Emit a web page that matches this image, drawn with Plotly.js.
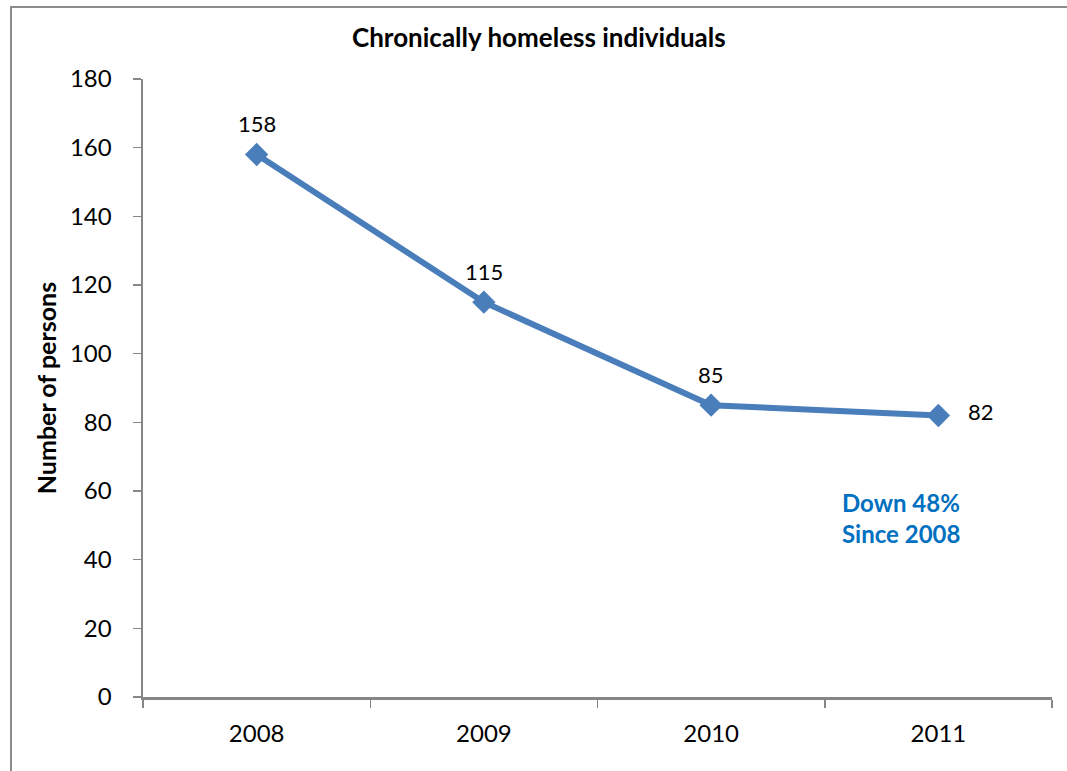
<!DOCTYPE html>
<html><head><meta charset="utf-8">
<script src="https://cdn.plot.ly/plotly-3.0.1.min.js"></script>
<style>
html,body{margin:0;padding:0;background:#fff;overflow:hidden;}
#frame{position:absolute;left:10px;top:6px;width:1200px;height:900px;border-left:2px solid #8c8c8c;border-top:2px solid #8c8c8c;}
#chart{position:absolute;left:0;top:0;width:1067px;height:771px;}
</style></head>
<body>
<div id="frame"></div>
<div id="chart"></div>
<script>
const years = ['2008','2009','2010','2011'];
const persons = [158, 115, 85, 82];
const labelPos = ['above','above','above','right'];
const yTicks = [0,20,40,60,80,100,120,140,160,180];

const font = 'Lato, "Open Sans", sans-serif';
const lineColor = '#4a7ebb';

const annotations = years.map((y,i)=>({
  x: i, y: persons[i], xref:'x', yref:'y', text: String(persons[i]),
  showarrow:false, font:{family:font,size:22,color:'#000'},
  xanchor: labelPos[i]==='right' ? 'left' : 'center',
  yanchor: 'middle',
  xshift: labelPos[i]==='right' ? 28 : 0,
  yshift: labelPos[i]==='right' ? 4 : 31
}));
annotations.push({
  xref:'paper', yref:'paper', x:0.834, y:0.29, xanchor:'center', yanchor:'middle',
  text:'<b>Down 48%<br>Since 2008</b>', showarrow:false, align:'left',
  font:{family:font,size:24,color:'#0070C0'}
});

Plotly.newPlot('chart', [{
  x: years, y: persons, type:'scatter', mode:'lines+markers',
  line:{color:lineColor,width:6},
  marker:{symbol:'diamond',size:18,color:lineColor},
  hoverinfo:'skip'
}], {
  width:1067, height:771,
  margin:{l:143,r:15,t:79,b:74},
  paper_bgcolor:'rgba(0,0,0,0)', plot_bgcolor:'rgba(0,0,0,0)',
  showlegend:false,
  title:{text:'<b>Chronically homeless individuals</b>', x:0.505, xanchor:'center', y:0.951, yanchor:'middle',
    font:{family:font,size:26,color:'#000'}},
  xaxis:{type:'category', range:[-0.5,3.5], tickson:'boundaries', ticks:'outside', ticklen:8,
    tickcolor:'#868686', tickwidth:1.5, showline:true, linecolor:'#868686', linewidth:2.5,
    showgrid:false, zeroline:false, tickfont:{family:font,size:24,color:'#000'}, ticklabelstandoff:14, fixedrange:true},
  yaxis:{range:[0,180], tickvals:yTicks, ticks:'outside', ticklen:8, tickcolor:'#868686', tickwidth:1.5,
    showline:true, linecolor:'#868686', linewidth:2.5, showgrid:false, zeroline:false,
    tickfont:{family:font,size:24,color:'#000'}, ticklabelstandoff:16,
    title:{text:'<b>Number of persons</b>', font:{family:font,size:25,color:'#000'}, standoff:6}, fixedrange:true},
  annotations: annotations
}, {displayModeBar:false, staticPlot:true});
</script>
</body></html>
